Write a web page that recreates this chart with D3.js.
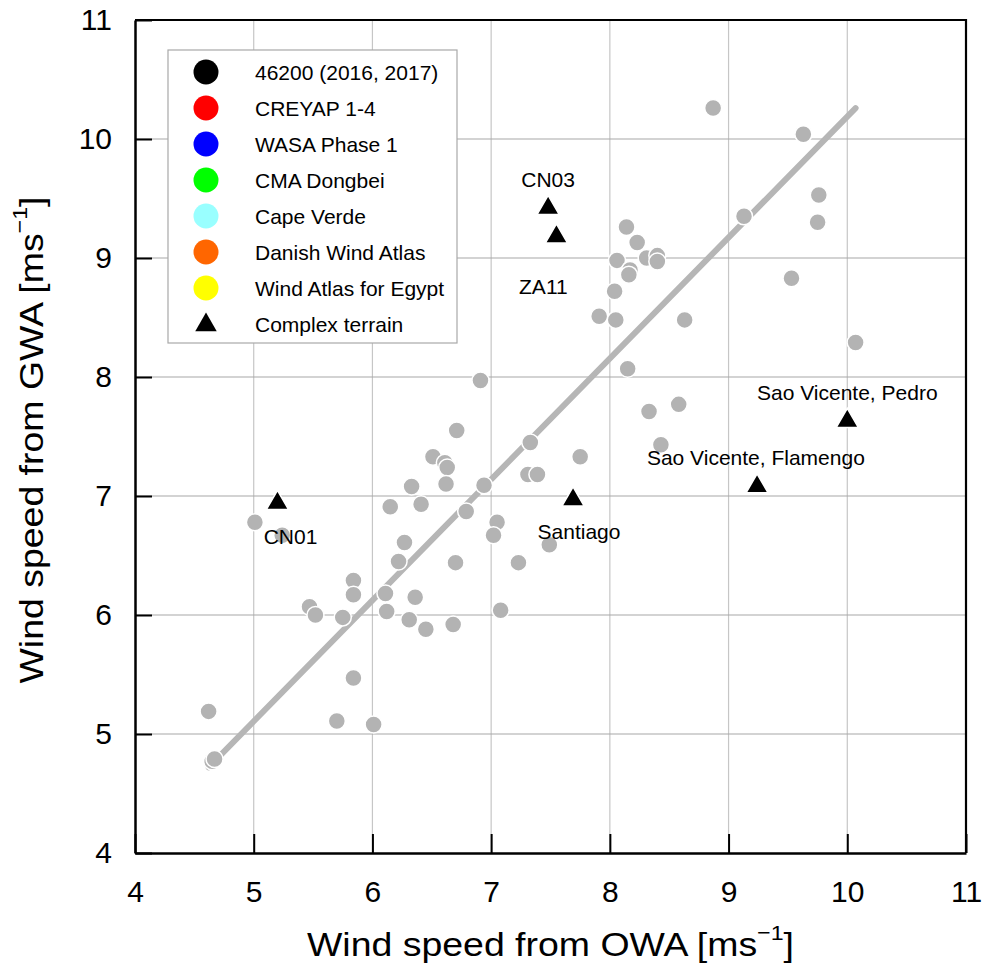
<!DOCTYPE html>
<html>
<head>
<meta charset="utf-8">
<script src="https://cdn.jsdelivr.net/npm/d3@7"></script>
<style>
  html, body { margin: 0; padding: 0; background: #fff; }
  svg { display: block; font-family: Arial, "Liberation Sans", Helvetica, sans-serif; }
</style>
</head>
<body>
<svg id="chart" width="984" height="966"></svg>
<script>
// ---- data ----
const xTicks = [4, 5, 6, 7, 8, 9, 10, 11];
const yTicks = [4, 5, 6, 7, 8, 9, 10, 11];

// all sites (grey circles): OWA vs GWA wind speed
const owa = [
  8.87, 9.63, 9.76, 9.13, 9.75, 8.14, 8.23, 8.06, 8.31, 8.40, 8.40, 8.17, 8.16, 8.04, 9.53,
  7.91, 8.05, 8.63, 10.07, 8.15, 6.91,
  8.33, 8.58, 8.43, 6.71, 7.33, 7.75, 6.94, 6.79, 7.05, 7.02, 7.49, 7.23, 6.70, 7.31, 7.39,
  6.51, 6.61, 6.63, 6.62, 6.33, 6.15, 6.41, 6.27, 6.22, 5.84, 5.84, 5.47, 5.52, 5.75,
  6.11, 6.12, 6.36, 6.31, 6.45, 6.68, 7.08, 5.01, 5.24,
  4.62, 4.65, 4.67, 5.84, 5.70, 6.01
];
const gwa = [
  10.26, 10.04, 9.53, 9.35, 9.30, 9.26, 9.13, 8.98, 9.00, 9.02, 8.97, 8.90, 8.86, 8.72, 8.83,
  8.51, 8.48, 8.48, 8.29, 8.07, 7.97,
  7.71, 7.77, 7.43, 7.55, 7.45, 7.33, 7.09, 6.87, 6.78, 6.67, 6.59, 6.44, 6.44, 7.18, 7.18,
  7.33, 7.28, 7.24, 7.10, 7.08, 6.91, 6.93, 6.61, 6.45, 6.29, 6.17, 6.07, 6.00, 5.98,
  6.18, 6.03, 6.15, 5.96, 5.88, 5.92, 6.04, 6.78, 6.67,
  5.19, 4.77, 4.79, 5.47, 5.11, 5.08
];

// complex terrain sites (black triangles)
const terrainNames = ["CN03", "ZA11", "CN01", "Santiago", "Sao Vicente, Flamengo", "Sao Vicente, Pedro"];
const terrainOWA = [7.48, 7.55, 5.20, 7.69, 9.24, 10.00];
const terrainGWA = [9.42, 9.18, 6.94, 6.97, 7.08, 7.63];
const labelOWA = [7.48, 7.44, 5.31, 7.74, 9.23, 10.00];
const labelGWA = [9.66, 8.76, 6.66, 6.70, 7.32, 7.87];

// regression line endpoints
const fitOWA = [4.62, 10.07];
const fitGWA = [4.72, 10.26];

// legend
const legendNames = ["46200 (2016, 2017)", "CREYAP 1-4", "WASA Phase 1", "CMA Dongbei",
  "Cape Verde", "Danish Wind Atlas", "Wind Atlas for Egypt", "Complex terrain"];
const legendColors = ["#000000", "#ff0000", "#0000ff", "#00ff00", "#99ffff", "#ff6600", "#ffff00", "#000000"];
const legendShapes = ["circle", "circle", "circle", "circle", "circle", "circle", "circle", "triangle"];

// ---- layout ----
const W = 984, H = 966;
const margin = { left: 135, top: 20, right: 18, bottom: 113 };
const iw = W - margin.left - margin.right;
const ih = H - margin.top - margin.bottom;

const svg = d3.select("#chart");
const g = svg.append("g").attr("transform", `translate(${margin.left},${margin.top})`);

const x = d3.scaleLinear().domain([4, 11]).range([0, iw]);
const y = d3.scaleLinear().domain([4, 11]).range([ih, 0]);

// gridlines
g.append("g").selectAll("line").data(xTicks.slice(1, -1)).join("line")
  .attr("x1", d => x(d)).attr("x2", d => x(d)).attr("y1", 0).attr("y2", ih)
  .attr("stroke", "#c6c6c6").attr("stroke-width", 1.2);
g.append("g").selectAll("line").data(yTicks.slice(1, -1)).join("line")
  .attr("y1", d => y(d)).attr("y2", d => y(d)).attr("x1", 0).attr("x2", iw)
  .attr("stroke", "#a8a8a8").attr("stroke-width", 1.2);

// legend
const lg = g.append("g").attr("transform", `translate(${168 - margin.left},${50 - margin.top})`);
lg.append("rect").attr("x", 0).attr("y", 0).attr("width", 289).attr("height", 293)
  .attr("fill", "#fff").attr("stroke", "#a8a8a8").attr("stroke-width", 1.2);
const items = lg.selectAll("g.item").data(legendNames).join("g")
  .attr("class", "item")
  .attr("transform", (d, i) => `translate(0,${22 + i * 36})`);
items.each(function (d, i) {
  const s = d3.select(this);
  if (legendShapes[i] === "circle") {
    s.append("circle").attr("cx", 38).attr("cy", 0).attr("r", 12.5).attr("fill", legendColors[i]);
  } else {
    s.append("path").attr("d", d3.symbol(d3.symbolTriangle, 200)())
      .attr("transform", "translate(38,1)").attr("fill", legendColors[i]);
  }
  s.append("text").attr("x", 87).attr("y", 0).attr("dominant-baseline", "central")
    .attr("font-size", 21).attr("fill", "#000").text(d);
});

// regression line
g.append("line")
  .attr("x1", x(fitOWA[0])).attr("y1", y(fitGWA[0]))
  .attr("x2", x(fitOWA[1])).attr("y2", y(fitGWA[1]))
  .attr("stroke", "#b6b6b6").attr("stroke-width", 6).attr("stroke-linecap", "round");

// points
g.append("g").selectAll("circle").data(owa).join("circle")
  .attr("cx", (d, i) => x(d)).attr("cy", (d, i) => y(gwa[i])).attr("r", 8.5)
  .attr("fill", "#b3b3b3").attr("stroke", "#fff").attr("stroke-width", 1.5);

// complex terrain triangles
g.append("g").selectAll("path").data(terrainOWA).join("path")
  .attr("d", d3.symbol(d3.symbolTriangle, 210)())
  .attr("transform", (d, i) => `translate(${x(d)},${y(terrainGWA[i])})`)
  .attr("fill", "#000").attr("stroke", "#fff").attr("stroke-width", 1.5);

// labels
g.append("g").selectAll("text").data(terrainNames).join("text")
  .attr("x", (d, i) => x(labelOWA[i])).attr("y", (d, i) => y(labelGWA[i]))
  .attr("text-anchor", "middle").attr("dominant-baseline", "central")
  .attr("font-size", 21).attr("fill", "#000").text(d => d);

// axes
const fmt = d3.format("d");
const xAxis = d3.axisBottom(x).tickValues(xTicks).tickFormat(fmt).tickSizeInner(-19).tickSizeOuter(0).tickPadding(28);
const yAxis = d3.axisLeft(y).tickValues(yTicks).tickFormat(fmt).tickSizeInner(-17).tickSizeOuter(0).tickPadding(23);
const gx = g.append("g").attr("transform", `translate(0,${ih})`).call(xAxis);
const gy = g.append("g").call(yAxis);
[gx, gy].forEach(a => {
  a.selectAll("text").attr("font-size", 30).attr("fill", "#000")
    .attr("font-family", "Arial, 'Liberation Sans', sans-serif");
  a.selectAll(".tick line").attr("stroke", "#000").attr("stroke-width", 2);
  a.select(".domain").attr("stroke", "#000").attr("stroke-width", 2.5);
});

// top & right frame
g.append("path").attr("d", `M0,0H${iw}V${ih}`).attr("fill", "none")
  .attr("stroke", "#000").attr("stroke-width", 2.2);

// axis titles
function title(sel, main) {
  sel.append("tspan").text(main);
  sel.append("tspan").attr("font-size", "0.62em").attr("dy", "-0.75em").text("\u22121");
  sel.append("tspan").attr("dy", "0.465em").text("]");
}
const xt = svg.append("text")
  .attr("x", margin.left + iw / 2).attr("y", 956)
  .attr("text-anchor", "middle").attr("font-size", 34).attr("fill", "#000")
  .attr("textLength", 487).attr("lengthAdjust", "spacingAndGlyphs");
title(xt, "Wind speed from OWA [ms");
const yt = svg.append("text")
  .attr("transform", `translate(43,${440}) rotate(-90)`)
  .attr("x", 0).attr("y", 0)
  .attr("text-anchor", "middle").attr("font-size", 34).attr("fill", "#000")
  .attr("textLength", 487).attr("lengthAdjust", "spacingAndGlyphs");
title(yt, "Wind speed from GWA [ms");
</script>
</body>
</html>
